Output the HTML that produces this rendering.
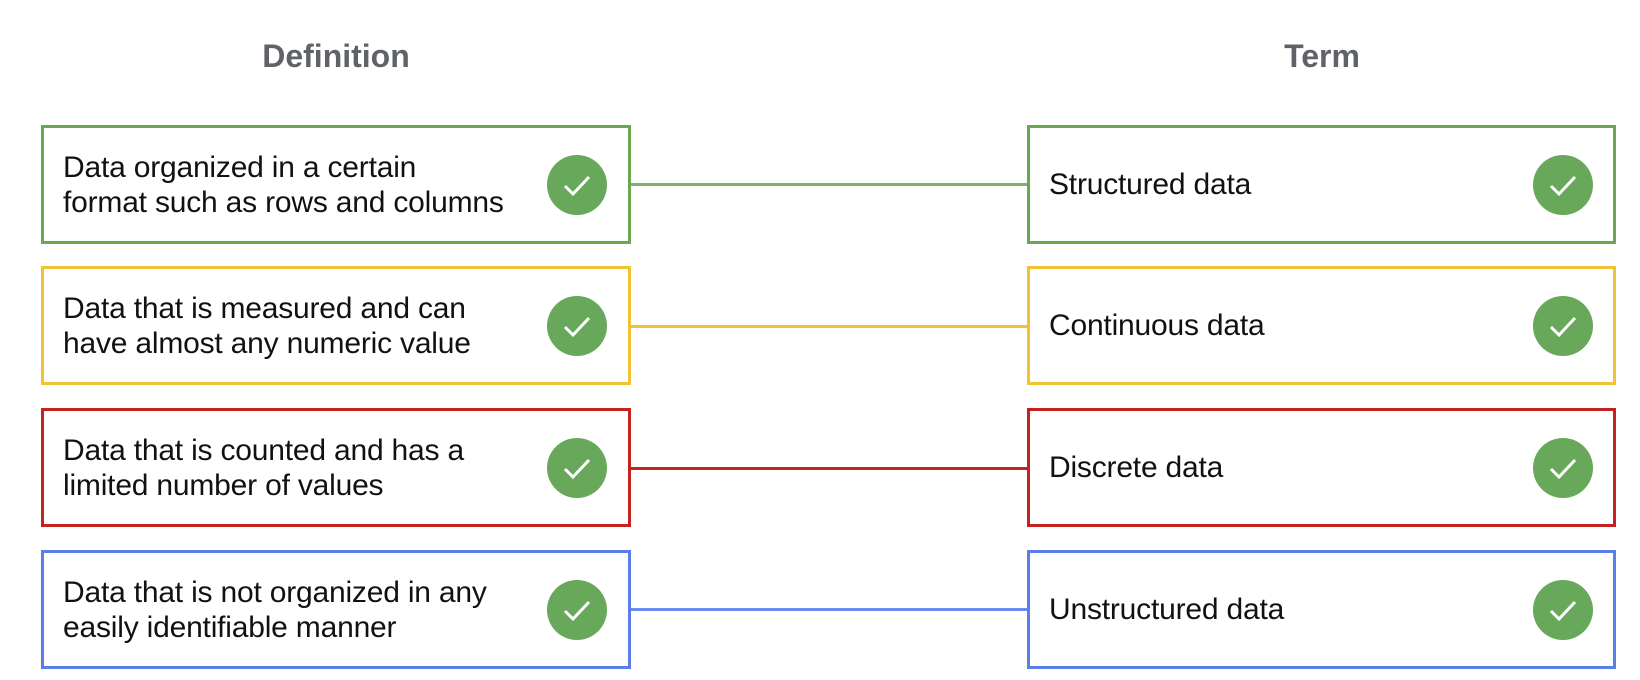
<!DOCTYPE html>
<html><head><style>
body{margin:0;width:1640px;height:680px;background:#fff;position:relative;font-family:"Liberation Sans",sans-serif;overflow:hidden}
.h{position:absolute;top:38px;font-size:32px;color:#5f6368;font-weight:bold;transform:translateX(-50%)}
.b{position:absolute;box-sizing:border-box;border:3px solid;height:119px;background:#fff;display:flex;align-items:center;font-size:30px;color:#111;line-height:35px;letter-spacing:-0.2px}
.l{left:41px;width:590px;padding-left:19px}
.r{left:1027px;width:589px;padding-left:19px}
.c{position:absolute;width:60px;height:60px;border-radius:50%;background:#67a85a;top:27px}
.c svg{position:absolute;left:0;top:0}
.ln{position:absolute;left:631px;width:396px;height:3px}
</style></head><body>
<div class="h" style="left:336px">Definition</div>
<div class="h" style="left:1322px">Term</div>

<div class="ln" style="top:183px;background:#7ab56d"></div>
<div class="ln" style="top:325px;background:#f1c232"></div>
<div class="ln" style="top:467px;background:#c5221f"></div>
<div class="ln" style="top:608px;background:#6b8bf0"></div>

<div class="b l" style="top:125px;border-color:#6aa84f">Data organized in a certain<br>format such as rows and columns<div class="c" style="left:503px"><svg width="60" height="60"><path d="M18 31 L26 39 L42 22" stroke="#fff" stroke-width="3" fill="none"/></svg></div></div>
<div class="b r" style="top:125px;border-color:#6aa84f">Structured data<div class="c" style="left:503px"><svg width="60" height="60"><path d="M18 31 L26 39 L42 22" stroke="#fff" stroke-width="3" fill="none"/></svg></div></div>

<div class="b l" style="top:266px;border-color:#f1c232">Data that is measured and can<br>have almost any numeric value<div class="c" style="left:503px"><svg width="60" height="60"><path d="M18 31 L26 39 L42 22" stroke="#fff" stroke-width="3" fill="none"/></svg></div></div>
<div class="b r" style="top:266px;border-color:#f1c232">Continuous data<div class="c" style="left:503px"><svg width="60" height="60"><path d="M18 31 L26 39 L42 22" stroke="#fff" stroke-width="3" fill="none"/></svg></div></div>

<div class="b l" style="top:408px;border-color:#c5221f">Data that is counted and has a<br>limited number of values<div class="c" style="left:503px"><svg width="60" height="60"><path d="M18 31 L26 39 L42 22" stroke="#fff" stroke-width="3" fill="none"/></svg></div></div>
<div class="b r" style="top:408px;border-color:#c5221f">Discrete data<div class="c" style="left:503px"><svg width="60" height="60"><path d="M18 31 L26 39 L42 22" stroke="#fff" stroke-width="3" fill="none"/></svg></div></div>

<div class="b l" style="top:550px;border-color:#5b7fe8">Data that is not organized in any<br>easily identifiable manner<div class="c" style="left:503px"><svg width="60" height="60"><path d="M18 31 L26 39 L42 22" stroke="#fff" stroke-width="3" fill="none"/></svg></div></div>
<div class="b r" style="top:550px;border-color:#5b7fe8">Unstructured data<div class="c" style="left:503px"><svg width="60" height="60"><path d="M18 31 L26 39 L42 22" stroke="#fff" stroke-width="3" fill="none"/></svg></div></div>
</body></html>
